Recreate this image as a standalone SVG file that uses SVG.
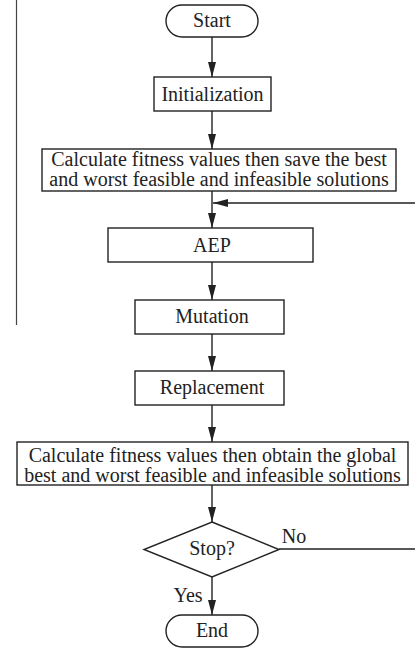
<svg xmlns="http://www.w3.org/2000/svg" width="415" height="651" viewBox="0 0 415 651">
<style>
.n{fill:#fff;stroke:#222;stroke-width:1.4}
.t{font-family:"Liberation Serif","Times New Roman",serif;font-size:20px;fill:#222;text-anchor:middle}
.c{fill:none;stroke:#222;stroke-width:1.4}
</style>
<defs>
<marker id="ah" viewBox="0 0 15 8" refX="15" refY="4" markerWidth="15" markerHeight="8" markerUnits="userSpaceOnUse" orient="auto">
<path d="M0,0 L15,4 L0,8 Z" fill="#222"/>
</marker>
</defs>
<rect width="415" height="651" fill="#fff"/>
<line x1="16.5" y1="0" x2="16.5" y2="325" stroke="#444" stroke-width="1.2"/>
<g id="connectors">
<line class="c" x1="212" y1="37" x2="212" y2="77" marker-end="url(#ah)"/>
<line class="c" x1="212" y1="111" x2="212" y2="149" marker-end="url(#ah)"/>
<line class="c" x1="212" y1="191" x2="212" y2="228" marker-end="url(#ah)"/>
<line class="c" x1="212" y1="262" x2="212" y2="300" marker-end="url(#ah)"/>
<line class="c" x1="212" y1="334" x2="212" y2="371" marker-end="url(#ah)"/>
<line class="c" x1="212" y1="405" x2="212" y2="442" marker-end="url(#ah)"/>
<line class="c" x1="212" y1="485" x2="212" y2="522" marker-end="url(#ah)"/>
<line class="c" x1="212" y1="577" x2="212" y2="615" marker-end="url(#ah)"/>
<path class="c" d="M279,549 H418 V203 H213" marker-end="url(#ah)"/>
<text class="t" x="294" y="543">No</text>
<text class="t" x="188" y="602">Yes</text>
</g>
<g id="start">
<rect class="n" x="166" y="5" width="92" height="32" rx="16"/>
<text class="t" x="212" y="27">Start</text>
</g>
<g id="init">
<rect class="n" x="154" y="77" width="117" height="34"/>
<text class="t" x="212.5" y="101">Initialization</text>
</g>
<g id="calc1">
<rect class="n" x="42" y="149" width="354" height="42"/>
<text class="t" x="219" y="166">Calculate fitness values then save the best</text>
<text class="t" x="219" y="186">and worst feasible and infeasible solutions</text>
</g>
<g id="aep">
<rect class="n" x="108" y="228" width="205" height="34"/>
<text class="t" x="212" y="252">AEP</text>
</g>
<g id="mutation">
<rect class="n" x="135" y="300" width="149" height="34"/>
<text class="t" x="212" y="323">Mutation</text>
</g>
<g id="replacement">
<rect class="n" x="135" y="371" width="149" height="34"/>
<text class="t" x="212" y="394">Replacement</text>
</g>
<g id="calc2">
<rect class="n" x="17" y="442" width="391" height="43"/>
<text class="t" x="212.5" y="462">Calculate fitness values then obtain the global</text>
<text class="t" x="212.5" y="482">best and worst feasible and infeasible solutions</text>
</g>
<g id="stop">
<path class="n" d="M212,522 L279,549.5 L212,577 L144,549.5 Z"/>
<text class="t" x="212" y="555">Stop?</text>
</g>
<g id="end">
<rect class="n" x="166" y="615" width="92" height="32" rx="16"/>
<text class="t" x="212" y="637">End</text>
</g>
</svg>
